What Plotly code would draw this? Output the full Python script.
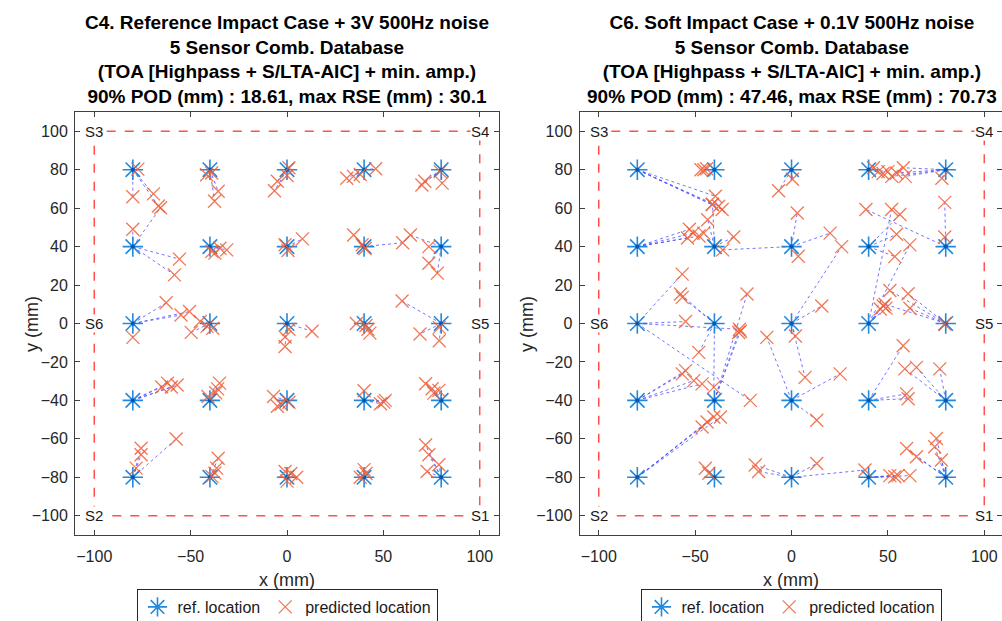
import plotly.graph_objects as go

# ---------------- data ----------------
grid_x = [-80, -40, 0, 40, 80]
grid_y = [80, 40, 0, -40, -80]
ref_x = [x for y in grid_y for x in grid_x]
ref_y = [y for y in grid_y for x in grid_x]

sensor_names = ["S1", "S2", "S3", "S4", "S5", "S6"]
sensor_x = [100, -100, -100, 100, 100, -100]
sensor_y = [-100, -100, 100, 100, 0, 0]

x_ticks = [-100, -50, 0, 50, 100]
y_ticks = [-100, -80, -60, -40, -20, 0, 20, 40, 60, 80, 100]

# C4: (ref x, ref y) -> predicted (x, y)
c4_from_x = [-80, -80, -80, -80, -80, -80, -80, -80, -40, -40, -40, -40, -40, -40, -40, -40,
             0, 0, 0, 0, 40, 40, 40, 40, 80, 80, 80, 80, 0, 0, 0, 40, 40, 40, 40, 80, 80, 80, 80,
             -80, -80, -80, -80, -40, -40, -40, -40, 0, 0, 0, 0, 40, 40, 40, 40, 80, 80, 80, 80,
             -80, -80, -80, -80, -40, -40, -40, -40, 0, 0, 0, 0, 40, 40, 40, 40, 80, 80, 80, 80,
             -80, -80, -80, -80, -40, -40, -40, -40, 0, 0, 0, 0, 40, 40, 40, 80, 80, 80, 80]
c4_from_y = [80, 80, 80, 80, 40, 40, 40, 40, 80, 80, 80, 80, 40, 40, 40, 40,
             80, 80, 80, 80, 80, 80, 80, 80, 80, 80, 80, 80, 40, 40, 40, 40, 40, 40, 40, 40, 40, 40, 40,
             0, 0, 0, 0, 0, 0, 0, 0, 0, 0, 0, 0, 0, 0, 0, 0, 0, 0, 0, 0,
             -40, -40, -40, -40, -40, -40, -40, -40, -40, -40, -40, -40, -40, -40, -40, -40, -40, -40, -40, -40,
             -80, -80, -80, -80, -80, -80, -80, -80, -80, -80, -80, -80, -80, -80, -80, -80, -80, -80, -80]
c4_pred_x = [-77.4, -80, -69.3, -66.7, -80, -55.8, -58.4, -65.6, -41.7, -39.1, -35.7, -37.6, -37.4, -34.8, -31.3, -39,
             -6.5, -5, 0, 1, 31, 34.5, 38, 46, 70, 71.5, 80.5, 79.5, 0.5, 8, -1, 34.6, 40.5, 39, 60, 64, 73.6, 73.6, 78,
             -62.7, -55, -50.6, -80, -49.7, -41.5, -38.5, -45, 1, -1, -1, 13, 36, 42, 43, 41, 59.7, 69, 79, 79,
             -65, -62, -60, -57, -41, -37, -35, -36, -7, -5, -3, 1, 40, 48.5, 50.2, 51, 71.9, 75.3, 78.8, 76.2,
             -75.7, -75.7, -78.3, -57.5, -35.7, -36.5, -37.4, -39, -1, 2, 5, 0, 40, 38, 41, 71.9, 73.6, 78.8, 72.7]
c4_pred_y = [80.3, 65.9, 67.4, 61.1, 49, 33.5, 25.3, 60.2, 77.4, 78.3, 68.8, 63.6, 36.6, 39.1, 38.3, 37.5,
             69, 74, 77, 81, 75.5, 76.5, 77.5, 80.5, 72, 74, 73, 79, 38, 44, 41, 46, 39, 41, 42, 46, 40, 31.3, 26.2,
             10.8, 4.4, 6.2, -7.2, -4.6, -1.5, -2.5, 1, -3, -7, -12, -4, 0, -3, -5, -1, 11.7, -5.5, -2, -9,
             -33, -31, -33, -32, -38, -36, -31, -34, -38, -43, -42, -41, -35, -41.7, -40.9, -40, -31.3, -33.9, -34.8, -36.2,
             -64.9, -68.3, -75.2, -60.1, -70.1, -75.2, -77.8, -79.5, -77, -78, -80, -82, -76, -80, -78, -63.2, -68.3, -73.5, -77]

# C6: (ref x, ref y) -> predicted (x, y)
c6_from_x = [-80, -80, -80, -80, -40, -40, -40, 0, 0, 40, 40, 40, 40, 80, 80, 80, 80, 80,
             -80, -80, -80, -80, -40, -40, -40, -40, 0, 0, 0, 0, 40, 40, 40, 80, 80, 80,
             -80, -80, -80, -80, -40, -40, -40, -40, 0, 0, 0, 0, 40, 40, 40, 40, 40, 80, 80, 80, 80, 80,
             -80, -80, -80, -80, -40, -40, -40, 0, 0, 0, 40, 40, 40, 80, 80, 80,
             -80, -80, -80, -80, -40, -40, 0, 0, 0, 0, 40, 40, 40, 40, 80, 80, 80, 80, 80]
c6_from_y = [80, 80, 80, 80, 80, 80, 80, 80, 80, 80, 80, 80, 80, 80, 80, 80, 80, 80,
             40, 40, 40, 40, 40, 40, 40, 40, 40, 40, 40, 40, 40, 40, 40, 40, 40, 40,
             0, 0, 0, 0, 0, 0, 0, 0, 0, 0, 0, 0, 0, 0, 0, 0, 0, 0, 0, 0, 0, 0,
             -40, -40, -40, -40, -40, -40, -40, -40, -40, -40, -40, -40, -40, -40, -40, -40,
             -80, -80, -80, -80, -80, -80, -80, -80, -80, -80, -80, -80, -80, -80, -80, -80, -80, -80, -80]
c6_pred_x = [-39.5, -37.8, -41.2, -36, -47, -45.5, -44, -6.7, 0.5, 42.5, 45, 47.5, 50, 52, 54.5, 58, 59, 78,
             -53, -51, -54, -48, -45.5, -43.5, -30, -41, 3, 3.5, 20, -35.7, 56.2, 54.5, 53.6, 38.6, 79.5, 79.5,
             -55, -56.7, -21.4, -27, -57.6, -56.7, -48.1, -40.3, 2, 7, 26, 15.7, 47.6, 49, 51.9, 61.4, 46,
             48.5, 60.5, 61.4, 79.5, 51,
             -55, -56.7, -50.7, -46.4, -27.4, -23.1, -26.5, 25.2, 13.1, -12.8, 57.9, 59.7, 60.5, 64.8, 58.8, 76.9,
             -46.4, -43.8, -40.3, -36.9, -44.7, -42.9, -18.8, -17.1, 13.1, 38.1, 51, 53.6, 55.3, 61.4,
             59.7, 64.8, 75.2, 74.3, 77.8]
c6_pred_y = [66.2, 61, 61.9, 59.3, 80, 80, 80.5, 69, 75, 81, 79, 78, 79, 76.5, 78.3, 81, 76.5, 75.5,
             49, 47, 44.5, 45.5, 47, 54, 45, 62, 57.5, 35, 47, 38.3, 56.7, 46.4, 34.8, 59.3, 63, 45,
             1, 25.7, -40, -3, 15.3, 13.6, -15, -33.1, -6.5, -28, 40, 9.1, 9.1, 8, 59.3, 40.9, 7.5,
             10, 15.5, 7.9, -0.3, 17.2,
             -24.5, -26.2, -29.7, -31.4, -4.7, 15.3, -4, -26.2, -50.3, -7.2, -11.6, -36.6, -39.1, -22.8, -23.6, -23.6,
             -53.8, -51.2, -48.6, -48.6, -75.3, -77.9, -73.6, -77, -72.8, -76.2, -79.1, -79.7, -79.1, -79.1,
             -65, -69.3, -59.8, -64.1, -71]

titles = [
    "C4. Reference Impact Case + 3V 500Hz noise<br>5 Sensor Comb. Database<br>"
    "(TOA [Highpass + S/LTA-AIC] + min. amp.)<br>90% POD (mm) : 18.61, max RSE (mm) : 30.1",
    "C6. Soft Impact Case + 0.1V 500Hz noise<br>5 Sensor Comb. Database<br>"
    "(TOA [Highpass + S/LTA-AIC] + min. amp.)<br>90% POD (mm) : 47.46, max RSE (mm) : 70.73",
]

# ---------------- styles ----------------
W, H = 1002, 621
FONT = "Liberation Sans, Arial, sans-serif"
BLUE = "#2489db"
ORANGE = "rgba(240,95,55,0.85)"
LINK = "rgba(70,70,255,0.75)"
AXC = "#404040"

panels = [
    dict(fx=c4_from_x, fy=c4_from_y, px=c4_pred_x, py=c4_pred_y, xa="x", ya="y", leg="legend",
         xl=287, yl=32),
    dict(fx=c6_from_x, fy=c6_from_y, px=c6_pred_x, py=c6_pred_y, xa="x2", ya="y2", leg="legend2",
         xl=791, yl=527),
]

fig = go.Figure()
for p in panels:
    lx, ly = [], []
    for a, b, c, d in zip(p["fx"], p["fy"], p["px"], p["py"]):
        lx += [a, c, None]
        ly += [b, d, None]
    fig.add_trace(go.Scatter(x=lx, y=ly, mode="lines", xaxis=p["xa"], yaxis=p["ya"],
                             line=dict(color=LINK, width=1, dash="dot"),
                             showlegend=False, hoverinfo="skip"))
    fig.add_trace(go.Scatter(x=ref_x, y=ref_y, mode="markers", xaxis=p["xa"], yaxis=p["ya"],
                             name="ref. location", legend=p["leg"],
                             marker=dict(symbol="asterisk-open", size=17, color=BLUE,
                                         line=dict(color=BLUE, width=1.6))))
    fig.add_trace(go.Scatter(x=ref_x, y=ref_y, mode="markers", xaxis=p["xa"], yaxis=p["ya"],
                             showlegend=False, hoverinfo="skip",
                             marker=dict(symbol="circle", size=4, color="#0a55b0")))
    fig.add_trace(go.Scatter(x=p["px"], y=p["py"], mode="markers", xaxis=p["xa"], yaxis=p["ya"],
                             name="predicted location", legend=p["leg"],
                             marker=dict(symbol="x-thin-open", size=13, color=ORANGE,
                                         line=dict(color=ORANGE, width=1.3))))
    # sensor frame
    fig.add_shape(type="rect", xref=p["xa"], yref=p["ya"], x0=-100, y0=-100, x1=100, y1=100,
                  line=dict(color="#ff5050", width=1.5, dash="dash"), layer="below")
    for n, sx, sy in zip(sensor_names, sensor_x, sensor_y):
        fig.add_annotation(x=sx, y=sy, xref=p["xa"], yref=p["ya"], text=n, showarrow=False,
                           font=dict(family=FONT, size=15, color="#1a1a1a"),
                           bgcolor="white", borderpad=0, xanchor="center", yanchor="middle")
    # axis titles
    fig.add_annotation(x=p["xl"] / W, y=1 - 580 / H, xref="paper", yref="paper", text="x (mm)",
                       showarrow=False, xanchor="center", yanchor="middle",
                       font=dict(family=FONT, size=18, color="#262626"))
    fig.add_annotation(x=p["yl"] / W, y=1 - 324 / H, xref="paper", yref="paper", text="y (mm)",
                       textangle=-90, showarrow=False, xanchor="center", yanchor="middle",
                       font=dict(family=FONT, size=18, color="#262626"))

# titles
for t, xa in zip(titles, ["x", "x2"]):
    fig.add_annotation(x=0, xref=xa, y=1 - 10 / H, yref="paper", text="<b>" + t + "</b>",
                       showarrow=False, xanchor="center", yanchor="top", align="center",
                       font=dict(family=FONT, size=19, color="black"))

ydom = [1 - 535 / H, 1 - 112 / H]
axis_common = dict(showline=True, linecolor=AXC, linewidth=1, mirror="ticks", ticks="inside",
                   ticklen=5, tickcolor=AXC, showgrid=False, zeroline=False,
                   tickfont=dict(family=FONT, size=16, color="#262626"))

leg_common = dict(orientation="h", xanchor="center", y=1 - 589 / H, yanchor="top",
                  bordercolor="#262626", borderwidth=1, bgcolor="white",
                  font=dict(family=FONT, size=16, color="#1a1a1a"))

fig.update_layout(
    width=W, height=H, margin=dict(l=0, r=0, t=0, b=0, autoexpand=False),
    paper_bgcolor="white", plot_bgcolor="white",
    xaxis=dict(domain=[75 / W, 499 / W], range=[-110, 110], tickvals=x_ticks,
               ticklabelstandoff=7, anchor="y", automargin=False, **axis_common),
    yaxis=dict(domain=ydom, range=[-110, 110], tickvals=y_ticks,
               ticklabelstandoff=3, anchor="x", automargin=False, **axis_common),
    xaxis2=dict(domain=[579.5 / W, 1.0], range=[-110, 109.2], tickvals=x_ticks,
                ticklabelstandoff=7, anchor="y2", automargin=False, **axis_common),
    yaxis2=dict(domain=ydom, range=[-110, 110], tickvals=y_ticks,
                ticklabelstandoff=3, anchor="x2", automargin=False, **axis_common),
    legend=dict(x=287 / W, **leg_common),
    legend2=dict(x=791 / W, **leg_common),
)

fig.write_html("out.html")
